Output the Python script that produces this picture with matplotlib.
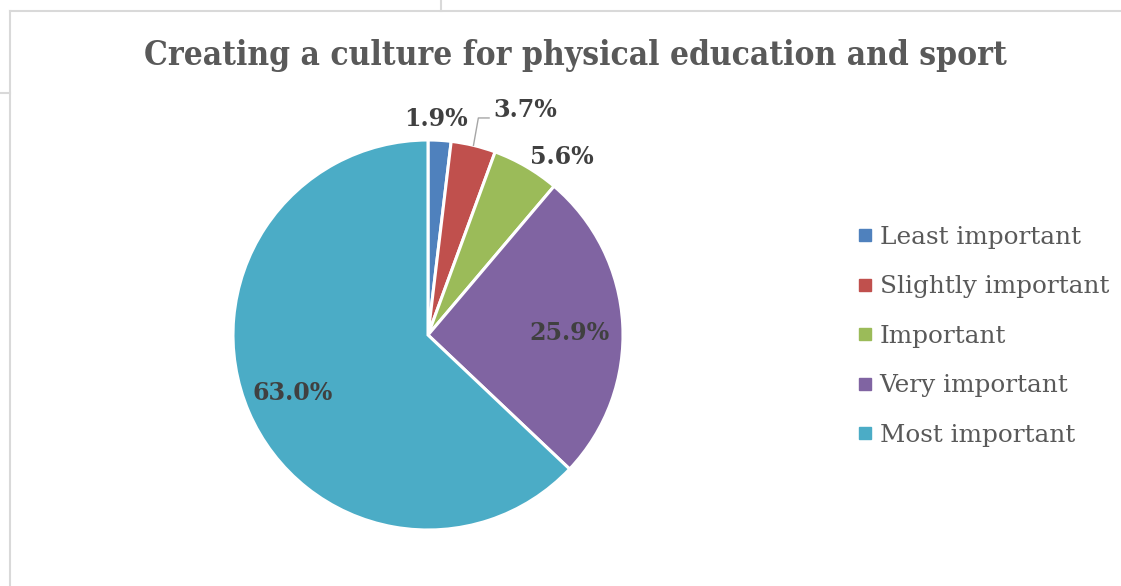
import numpy as np
import matplotlib
matplotlib.use("Agg")
import matplotlib.pyplot as plt
from matplotlib.lines import Line2D

# Survey results: share of respondents per importance rating
categories = ["Least important", "Slightly important", "Important",
              "Very important", "Most important"]
shares = [1.9, 3.7, 5.6, 25.9, 63.0]
colors = ["#4F81BD", "#C0504D", "#9BBB59", "#8064A2", "#4BACC6"]
title = "Creating a culture for physical education and sport"

W, H, DPI = 1121, 586, 100
SERIF = ["DejaVu Serif"]

fig = plt.figure(figsize=(W / DPI, H / DPI), dpi=DPI)
fig.patch.set_facecolor("white")


def px(x, y):
    """Convert pixel position (origin top-left) to figure fraction."""
    return x / W, 1 - y / H


# Chart frame and neighbouring cell borders
frame_kw = dict(color="#d9d9d9", lw=1.5, transform=fig.transFigure)
for (x0, y0), (x1, y1) in [((10, 11), (W, 11)), ((10, 11), (10, H)),
                           ((0, 93), (10, 93)), ((441, 0), (441, 11))]:
    a, b = px(x0, y0)
    c, d = px(x1, y1)
    fig.add_artist(Line2D([a, c], [b, d], **frame_kw))

# Pie axes: centre (428, 335), radius 195 px
cx, cy, R = 428, 335, 195
ax = fig.add_axes([(cx - R) / W, (H - cy - R) / H, 2 * R / W, 2 * R / H])
wedges, _ = ax.pie(shares, colors=colors, startangle=90, counterclock=False,
                   radius=1.0,
                   wedgeprops=dict(edgecolor="white", linewidth=2.2))
ax.set_xlim(-1, 1)
ax.set_ylim(-1, 1)
ax.set_aspect("equal")
ax.axis("off")

# Data label placement: (radius, angle in degrees) in pie units
label_pos = [(1.11, 88.0), (1.255, 66.7), (1.14, 53.0), (0.728, 0.8), (0.753, 203.2)]
label_kw = dict(fontsize=17.1, fontweight="bold", color="#404040",
                family=SERIF, ha="center", va="center")
for val, (r, ang) in zip(shares, label_pos):
    t = np.deg2rad(ang)
    ax.text(r * np.cos(t), r * np.sin(t), f"{val:.1f}%", **label_kw)

# Leader line for the second slice
w = wedges[1]
mid = np.deg2rad((w.theta1 + w.theta2) / 2)
ex, ey = np.cos(mid), np.sin(mid)
kx, ky = ex + 0.025, 1.113
ax.plot([ex, kx, kx + 0.055], [ey, ky, ky], color="#a6a6a6", lw=1.0,
        clip_on=False)

# Title
tx, ty = px(575, 55)
fig.text(tx, ty, title, fontsize=24, fontweight="bold", fontstretch="condensed",
         color="#595959", family=["DejaVu Serif Condensed", "DejaVu Serif"],
         ha="center", va="center")

# Legend
handles = [Line2D([], [], marker="s", linestyle="none", markersize=8,
                  markerfacecolor=c, markeredgecolor=c) for c in colors]
lx, ly = px(848, 216)
leg = fig.legend(handles, categories, loc="upper left", bbox_to_anchor=(lx, ly),
                 frameon=False, handlelength=0.55, handletextpad=0.33,
                 labelspacing=1.07, borderaxespad=0,
                 prop=dict(family=SERIF, size=17.8))
for txt in leg.get_texts():
    txt.set_color("#595959")

fig.savefig("out.png", dpi=DPI, facecolor="white")
